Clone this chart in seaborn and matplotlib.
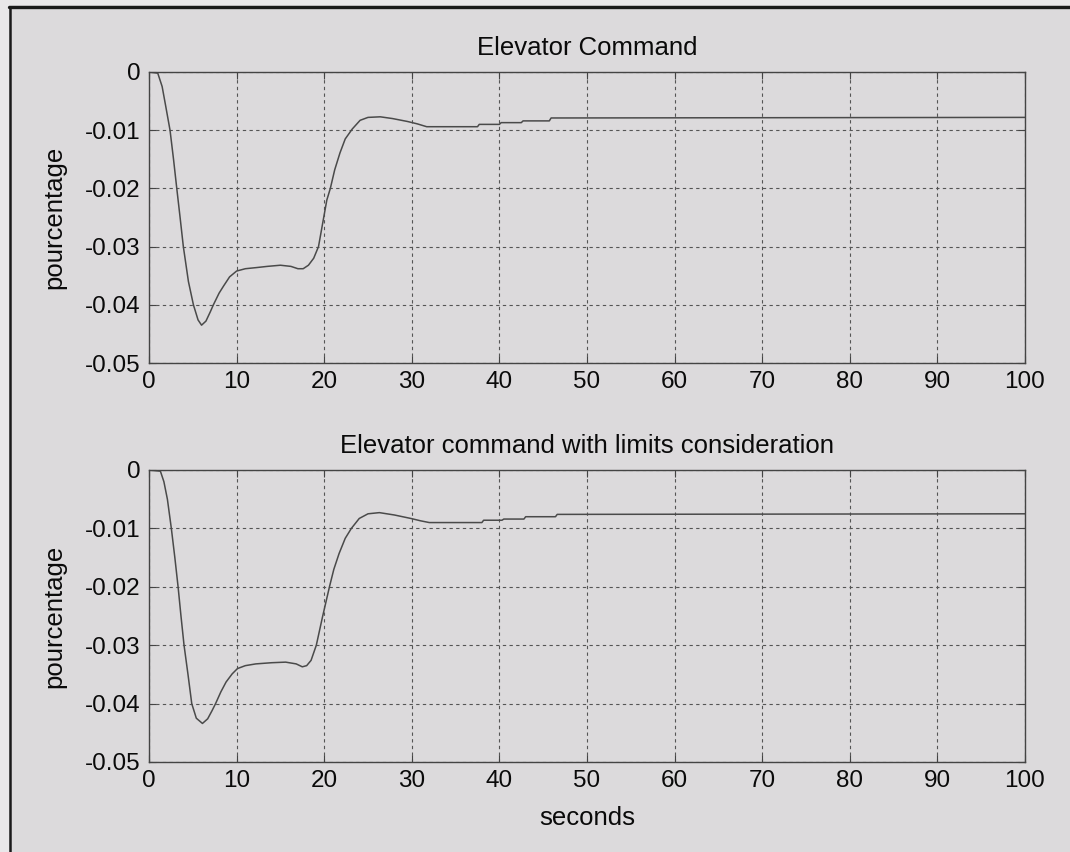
import matplotlib
matplotlib.use("Agg")
import matplotlib.pyplot as plt
from matplotlib.lines import Line2D
import seaborn as sns
import pandas as pd

# Elevator command response (seconds, pourcentage)
t_cmd = [0, 1.0, 1.5, 1.9, 2.4, 2.8, 3.17, 3.55, 3.92, 4.5, 5.07, 5.6, 6.0, 6.5, 7.0,
         7.35, 8.0, 8.5, 9.2, 10.0, 11.0, 12.3, 13.5, 15.0, 16.2, 17.0, 17.6, 18.2,
         18.8, 19.35, 19.8, 20.3, 20.7, 21.2, 21.8, 22.4, 23.2, 24.1, 25.0, 26.4,
         27.8, 29.5, 30.6, 31.7, 34.0, 37.5, 37.7, 40.0, 40.2, 42.5, 42.7, 45.7,
         45.9, 100]
v_cmd = [0, -0.0002, -0.0025, -0.0058, -0.0100, -0.0150, -0.0200, -0.0250, -0.0300,
         -0.0360, -0.0400, -0.0426, -0.0435, -0.0428, -0.0412, -0.0400, -0.0380,
         -0.0368, -0.0352, -0.0342, -0.0338, -0.0336, -0.0334, -0.0332, -0.0334,
         -0.0338, -0.0338, -0.0332, -0.0320, -0.0300, -0.0262, -0.0220, -0.0200,
         -0.0168, -0.0139, -0.0115, -0.0098, -0.0083, -0.0078, -0.0077, -0.0080,
         -0.0085, -0.0089, -0.0094, -0.0094, -0.0094, -0.0090, -0.0090, -0.0087,
         -0.0087, -0.0084, -0.0084, -0.0079, -0.0078]

# Elevator command with limits consideration
t_lim = [0, 1.3, 1.7, 2.1, 2.55, 2.95, 3.32, 3.65, 4.0, 4.45, 4.88, 5.4, 6.1, 6.7,
         7.2, 7.6, 8.2, 8.8, 9.5, 10.1, 11.0, 12.2, 14.0, 15.6, 16.8, 17.5, 18.0,
         18.5, 19.1, 19.8, 20.6, 21.1, 21.7, 22.4, 23.1, 24.0, 25.0, 26.3, 28.0,
         29.9, 31.0, 32.0, 38.0, 38.2, 40.3, 40.5, 42.8, 43.0, 46.4, 46.6, 100]
v_lim = [0, -0.0002, -0.0020, -0.0050, -0.0100, -0.0150, -0.0200, -0.0250, -0.0300,
         -0.0350, -0.0400, -0.0425, -0.0434, -0.0426, -0.0412, -0.0400, -0.0380,
         -0.0363, -0.0349, -0.0340, -0.0335, -0.0332, -0.0330, -0.0329, -0.0332,
         -0.0337, -0.0335, -0.0326, -0.0300, -0.0252, -0.0200, -0.0170, -0.0143,
         -0.0117, -0.0100, -0.0083, -0.0075, -0.0073, -0.0077, -0.0083, -0.0087,
         -0.0090, -0.0090, -0.0086, -0.0086, -0.0084, -0.0084, -0.0080, -0.0080,
         -0.0076, -0.0075]

titles = ["Elevator Command", "Elevator command with limits consideration"]
y_label = "pourcentage"
x_label = "seconds"
x_ticks = [0, 10, 20, 30, 40, 50, 60, 70, 80, 90, 100]
y_ticks = [-0.05, -0.04, -0.03, -0.02, -0.01, 0]
y_tick_labels = ["-0.05", "-0.04", "-0.03", "-0.02", "-0.01", "0"]

sns.set_theme(style="ticks")
plt.rcParams["font.family"] = ["Liberation Sans", "DejaVu Sans"]
plt.rcParams["axes.unicode_minus"] = False

paper = "#dcdadc"
ink = "#0a0a0a"
curve = "#4a4a4a"

W, H = 1070, 852
fig = plt.figure(figsize=(W / 100, H / 100), dpi=100, facecolor=paper)

# page margins and frame
fig.patches.append(plt.Rectangle((0, 0), 9 / W, 1, transform=fig.transFigure,
                                 facecolor="#e9e7e9", edgecolor="none", zorder=0))
fig.patches.append(plt.Rectangle((0, 1 - 5 / H), 1, 5 / H, transform=fig.transFigure,
                                 facecolor="#e9e7e9", edgecolor="none", zorder=0))
fig.lines.append(Line2D([9 / W, 1], [1 - 6.5 / H, 1 - 6.5 / H], transform=fig.transFigure,
                        color="#1a1a1a", linewidth=2.4))
fig.lines.append(Line2D([10 / W, 10 / W], [0, 1 - 6.5 / H], transform=fig.transFigure,
                        color="#1a1a1a", linewidth=1.8))

left, width = 149 / W, 876 / W
ax_top = fig.add_axes([left, 1 - 363 / H, width, 291 / H])
ax_bot = fig.add_axes([left, 1 - 762 / H, width, 292 / H])

series = [(t_cmd, v_cmd), (t_lim, v_lim)]
for ax, (tt, vv), title in zip([ax_top, ax_bot], series, titles):
    df = pd.DataFrame({"t": tt, "v": vv})
    ax.set_facecolor(paper)
    sns.lineplot(data=df, x="t", y="v", ax=ax, color=curve, linewidth=1.1,
                 sort=False, estimator=None)
    ax.set_xlim(0, 100)
    ax.set_ylim(-0.05, 0)
    ax.set_xticks(x_ticks)
    ax.set_xticklabels([str(v) for v in x_ticks])
    ax.set_yticks(y_ticks)
    ax.set_yticklabels(y_tick_labels)
    ax.grid(True, linestyle=(0, (3, 3)), color="#555555", linewidth=0.8)
    ax.tick_params(direction="in", length=5, width=0.8, colors="#444444",
                   labelcolor=ink, labelsize=17.5, top=True, right=True, pad=6)
    for s in ax.spines.values():
        s.set_color("#444444")
        s.set_linewidth(1.0)
    ax.set_title(title, fontsize=18.5, color=ink, pad=12)
    ax.set_ylabel(y_label, fontsize=18.5, color=ink)
    ax.yaxis.set_label_coords(-0.094, 0.5)
    ax.set_xlabel("")

ax_bot.set_xlabel(x_label, fontsize=18.5, color=ink, labelpad=10)

fig.savefig("out.png", dpi=100, facecolor=paper)
